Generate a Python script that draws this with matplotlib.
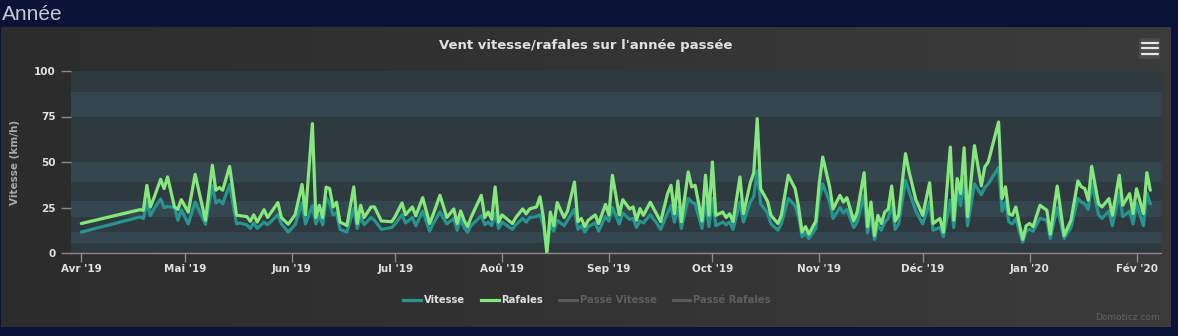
import numpy as np
import pandas as pd
import matplotlib
matplotlib.use('Agg')
from matplotlib import pyplot as plt
from matplotlib.colors import LinearSegmentedColormap
from matplotlib.lines import Line2D
from matplotlib.patches import FancyBboxPatch

START = pd.Timestamp('2019-04-01')

# days since START, gusts and mean speed (km/h)
DAYS = [
    0, 17, 18, 19, 20, 21, 23, 24, 25, 27, 28, 29, 31, 33, 36, 38, 39, 40,
    41, 43, 45, 46, 48, 49, 50, 51, 53, 54, 57, 58, 60, 62, 64, 65, 67, 68,
    69, 70, 71, 72, 73, 74, 75, 77, 79, 80, 81, 82, 84, 85, 87, 90, 91, 93,
    94, 96, 97, 99, 101, 102, 104, 106, 108, 109, 110, 111, 112, 113, 116,
    117, 118, 119, 120, 121, 122, 125, 126, 128, 129, 130, 132, 133, 134,
    135, 136, 137, 138, 140, 141, 143, 144, 145, 146, 147, 149, 150, 152,
    153, 154, 156, 157, 159, 160, 161, 162, 163, 165, 167, 168, 170, 171,
    172, 173, 174, 176, 177, 178, 180, 181, 182, 183, 184, 186, 187, 188,
    189, 191, 192, 194, 195, 196, 197, 199, 200, 202, 203, 205, 207, 208,
    209, 210, 211, 213, 214, 215, 217, 218, 220, 221, 222, 224, 225, 227,
    228, 229, 230, 231, 232, 233, 234, 235, 236, 237, 239, 240, 242, 244,
    246, 247, 249, 250, 252, 253, 254, 255, 256, 257, 259, 261, 262, 263,
    266, 267, 268, 269, 270, 271, 272, 273, 274, 275, 276, 278, 280, 281,
    283, 285, 287, 289, 290, 291, 292, 293, 295, 296, 298, 299, 301, 302,
    304, 305, 306, 308, 309, 310,
]
RAFALES = [
    16.2, 23.8, 23.5, 37.2, 25.3, 30.0, 40.5, 35.4, 41.8, 25.3, 24.0, 29.3,
    22.5, 43.2, 18.0, 48.2, 34.5, 36.0, 34.5, 47.6, 20.7, 20.5, 20.0, 17.4,
    21.0, 17.0, 23.8, 19.5, 27.7, 19.5, 15.8, 21.0, 37.7, 21.0, 71.1, 19.5,
    26.2, 19.5, 36.2, 35.4, 25.3, 27.9, 17.0, 15.1, 36.3, 16.2, 26.2, 19.5,
    25.3, 25.3, 17.6, 17.2, 20.0, 27.5, 21.0, 25.3, 20.4, 30.4, 16.2, 21.0,
    31.7, 19.5, 24.2, 16.2, 23.1, 18.0, 14.5, 19.5, 31.7, 19.5, 22.5, 18.5,
    36.3, 17.0, 20.9, 16.2, 19.5, 24.2, 21.5, 24.2, 25.3, 30.9, 19.5, 0.0,
    22.5, 15.0, 27.7, 19.5, 23.1, 39.0, 17.2, 19.0, 14.5, 18.0, 20.9, 16.2,
    26.7, 20.9, 42.7, 20.9, 29.3, 24.2, 25.3, 18.0, 24.4, 20.7, 27.9, 20.7,
    17.2, 32.6, 37.2, 21.6, 39.6, 17.2, 44.5, 36.3, 37.2, 17.6, 42.7, 20.7,
    50.0, 20.7, 22.5, 19.5, 21.5, 17.2, 41.8, 21.6, 38.6, 44.0, 73.8, 35.3,
    28.4, 20.7, 16.2, 20.7, 42.7, 35.3, 25.3, 11.5, 14.5, 10.4, 17.6, 38.5,
    52.7, 36.3, 24.2, 31.7, 28.0, 30.4, 17.6, 22.5, 44.1, 14.5, 28.0, 9.6,
    20.7, 16.2, 22.5, 24.2, 36.8, 17.6, 20.7, 54.6, 45.0, 29.3, 20.7, 38.6,
    16.2, 19.0, 11.5, 58.2, 18.0, 40.9, 32.6, 57.8, 20.0, 59.0, 36.9, 47.3,
    50.0, 72.0, 29.9, 36.4, 21.6, 20.7, 25.3, 16.2, 7.5, 15.0, 16.2, 14.5,
    26.2, 23.5, 10.4, 36.8, 9.6, 18.0, 39.6, 36.4, 35.4, 29.0, 47.6, 27.0,
    25.3, 29.9, 20.7, 42.7, 26.2, 32.6, 21.6, 35.3, 21.6, 44.1, 34.5,
]
VITESSE = [
    11.5, 19.8, 19.0, 28.0, 20.5, 24.0, 29.7, 25.0, 25.5, 25.0, 18.0, 23.7,
    16.0, 28.0, 15.8, 37.0, 27.5, 29.0, 27.0, 37.6, 16.0, 16.5, 15.5, 13.5,
    16.5, 13.5, 17.0, 15.5, 21.0, 16.0, 11.5, 15.5, 27.7, 16.0, 26.0, 16.0,
    20.8, 15.5, 30.4, 27.0, 21.0, 22.0, 13.0, 11.5, 24.5, 13.5, 20.0, 15.5,
    19.5, 18.0, 13.0, 14.0, 16.0, 21.0, 16.5, 19.5, 15.0, 23.0, 12.0, 16.0,
    22.5, 16.0, 19.0, 12.5, 18.5, 14.0, 11.5, 15.0, 20.5, 15.5, 17.0, 15.0,
    22.0, 13.5, 17.0, 13.0, 15.5, 19.0, 17.0, 19.5, 20.0, 21.0, 15.0, 1.0,
    16.0, 12.0, 18.0, 15.0, 18.0, 24.0, 13.0, 15.0, 11.5, 14.5, 16.5, 12.0,
    20.0, 17.5, 25.0, 16.0, 22.0, 18.5, 19.0, 14.0, 17.5, 16.5, 21.0, 16.0,
    13.0, 22.0, 26.0, 17.0, 25.0, 13.5, 30.0, 28.0, 27.0, 13.5, 28.0, 14.5,
    30.0, 15.0, 17.0, 15.5, 17.0, 13.0, 28.0, 17.0, 28.0, 31.0, 45.0, 27.0,
    22.0, 16.0, 12.5, 16.0, 30.0, 26.0, 20.0, 9.0, 11.0, 8.0, 13.5, 30.0,
    38.0, 28.0, 19.0, 25.0, 22.0, 24.0, 14.0, 17.0, 32.0, 11.0, 20.0, 7.5,
    15.5, 12.5, 17.0, 19.0, 27.0, 13.0, 16.0, 40.0, 34.0, 23.0, 16.0, 28.0,
    12.5, 14.0, 9.0, 29.0, 14.0, 34.0, 26.0, 40.0, 15.0, 38.0, 32.0, 36.0,
    38.0, 47.0, 23.0, 28.0, 17.0, 16.0, 19.0, 12.0, 6.0, 12.0, 13.0, 12.0,
    19.0, 18.0, 8.0, 25.0, 8.0, 14.0, 30.0, 28.0, 27.0, 24.0, 38.0, 21.0,
    19.0, 23.0, 15.0, 33.0, 20.0, 23.0, 16.0, 27.0, 15.0, 33.0, 27.0,
]

# Beaufort scale bands (km/h) shaded on the plot
BANDS = [(5.6, 11.8), (19.8, 28.6), (38.8, 49.8), (74.6, 88.3)]

MONTH_LABELS = ['Avr', 'Mai', 'Jun', 'Jul', 'Aoû', 'Sep', 'Oct', 'Nov',
                'Déc', 'Jan', 'Fév']
Y_TICKS = [0, 25, 50, 75, 100]

COLOR_VITESSE = '#27958f'
COLOR_RAFALES = '#85e77c'
COLOR_OFF = '#5a5a5a'
TEXT = '#e0e0e0'
W, H = 1178, 336

dates = START + pd.to_timedelta(DAYS, unit='D')

fig = plt.figure(figsize=(W / 100, H / 100), dpi=100)
fig.patch.set_facecolor('#0a1236')

# panel background with a soft left-to-right gradient
bg = fig.add_axes([1 / W, 9 / H, 1170 / W, 300 / H], zorder=0)
bg.imshow(np.linspace(0, 1, 256)[None, :], aspect='auto',
          cmap=LinearSegmentedColormap.from_list('panel', ['#2c2c2c', '#3b3b3b']),
          extent=(0, 1, 0, 1))
bg.set_axis_off()

fig.text(2 / W, 1 - 14 / H, 'Année', fontsize=15, color='#c3cad6',
         family='Liberation Sans', ha='left', va='center')

ax = fig.add_axes([71 / W, (H - 253) / H, 1090 / W, 182 / H], zorder=1)
ax.set_facecolor('#2f3a40')
for lo, hi in BANDS:
    ax.axhspan(lo, hi, color='#34474f', lw=0, zorder=0)

ax.plot(dates, VITESSE, color=COLOR_VITESSE, lw=2.3, solid_joinstyle='round',
        solid_capstyle='round', zorder=3, label='Vitesse')
ax.plot(dates, RAFALES, color=COLOR_RAFALES, lw=2.3, solid_joinstyle='round',
        solid_capstyle='round', zorder=4, label='Rafales')

ax.set_ylim(0, 100)
ax.set_xlim(START - pd.Timedelta(days=3), START + pd.Timedelta(days=313.1))
ax.set_yticks(Y_TICKS)

month_starts = pd.date_range(START, periods=len(MONTH_LABELS), freq='MS')
ax.set_xticks(month_starts)
ax.set_xticklabels(["%s '%s" % (lab, str(d.year)[2:])
                    for lab, d in zip(MONTH_LABELS, month_starts)])

for side in ('top', 'right', 'left'):
    ax.spines[side].set_visible(False)
ax.spines['bottom'].set_color('#8a8a8a')
ax.spines['bottom'].set_linewidth(1)
ax.tick_params(axis='y', length=7, width=1, color='#8a8a8a', pad=4,
               labelsize=7.5, labelcolor=TEXT)
ax.tick_params(axis='x', length=6.5, width=1, color='#8a8a8a', pad=1.5,
               labelsize=7.5, labelcolor=TEXT)
for lab in ax.get_xticklabels() + ax.get_yticklabels():
    lab.set_fontweight('bold')

ax.set_ylabel('Vitesse (km/h)', fontsize=7.5, fontweight='bold',
              color='#a8a8a8', labelpad=10)

fig.text(586 / W, 1 - 46 / H, "Vent vitesse/rafales sur l'année passée",
         fontsize=9.5, fontweight='bold', color=TEXT, ha='center', va='center')

handles = [
    Line2D([], [], color=COLOR_VITESSE, lw=2.3),
    Line2D([], [], color=COLOR_RAFALES, lw=2.3),
    Line2D([], [], color=COLOR_OFF, lw=2.3),
    Line2D([], [], color=COLOR_OFF, lw=2.3),
]
leg = ax.legend(handles, ['Vitesse', 'Rafales', 'Passé Vitesse', 'Passé Rafales'],
                loc='center', bbox_to_anchor=(587 / W, 1 - 300 / H),
                bbox_transform=fig.transFigure, ncol=4, frameon=False,
                prop={'size': 7.2, 'weight': 'bold'}, handlelength=1.75,
                handletextpad=0.3, columnspacing=1.6)
for txt, col in zip(leg.get_texts(), [TEXT, TEXT, '#5e5e5e', '#5e5e5e']):
    txt.set_color(col)

fig.text(1160 / W, 1 - 318 / H, 'Domoticz.com', fontsize=6.5, color='#626262',
         ha='right', va='center')

# export menu button
btn = FancyBboxPatch((1139 / W, 1 - 59 / H), 21 / W, 21 / H,
                     boxstyle='round,pad=0,rounding_size=0.004',
                     transform=fig.transFigure, facecolor='#4b4b4b',
                     edgecolor='none', zorder=2)
fig.add_artist(btn)
for yy in (43, 48.3, 53.6):
    fig.add_artist(Line2D([1142 / W, 1158 / W], [1 - yy / H, 1 - yy / H],
                          transform=fig.transFigure, color='#e8e8e8', lw=1.6,
                          solid_capstyle='round', zorder=3))

fig.savefig('out.png', dpi=100, facecolor=fig.get_facecolor())
